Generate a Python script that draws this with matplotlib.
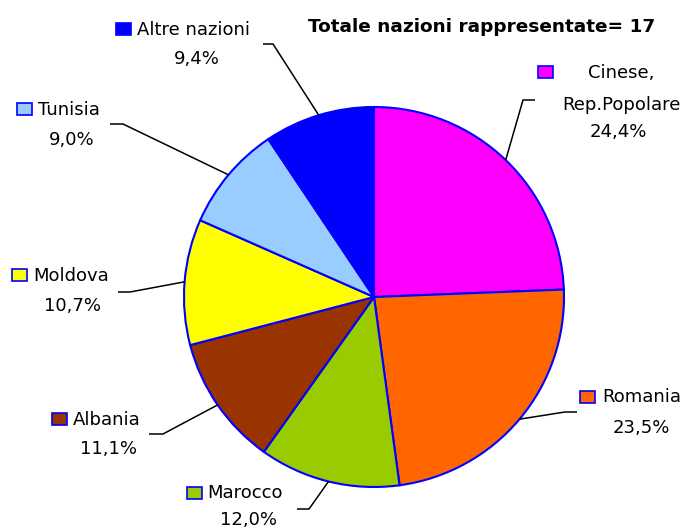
import matplotlib
matplotlib.use("Agg")
import matplotlib.pyplot as plt
from matplotlib.patches import Rectangle
import numpy as np

# dati
nazioni = ["Cinese,\nRep.Popolare", "Romania", "Marocco", "Albania",
           "Moldova", "Tunisia", "Altre nazioni"]
quote = [24.4, 23.5, 12.0, 11.1, 10.7, 9.0, 9.4]
colori = ["#FF00FF", "#FF6600", "#99CC00", "#993300",
          "#FFFF00", "#99CCFF", "#0000FF"]
titolo = "Totale nazioni rappresentate= 17"

W, H = 689, 530
CX, CY, R = 374, 297, 190   # centro e raggio in pixel


def px(x, y):
    # pixel (origine in alto a sinistra) -> coordinate dati
    return x, H - y


# posizioni delle etichette (pixel): quadratino, nome, percentuale, gomito
quadr_pos = [(538, 78), (580, 403), (187, 499), (52, 425),
             (12, 281), (17, 115), (116, 35)]
nome_pos = [(621, 78), (602, 402), (207, 498), (73, 425),
            (33, 281), (38, 115), (137, 35)]
perc_pos = [(618, 137), (641, 433), (249, 525), (109, 454),
            (73, 311), (72, 145), (197, 64)]
gomiti = [[(535, 100), (523, 100)], [(577, 412), (565, 412)],
          [(297, 509), (309, 509)], [(149, 434), (163, 434)],
          [(118, 292), (130, 292)], [(110, 124), (123, 124)],
          [(263, 44), (273, 44)]]

fig = plt.figure(figsize=(W / 100, H / 100), dpi=100)
ax = fig.add_axes([0, 0, 1, 1])

wedges, _ = ax.pie(quote, colors=colori, startangle=90, counterclock=False,
                   center=px(CX, CY), radius=R,
                   wedgeprops=dict(edgecolor="#0000FF", linewidth=1.5))
ax.set_xlim(0, W)
ax.set_ylim(0, H)
ax.set_aspect("equal")
ax.axis("off")

font = dict(family="DejaVu Sans", size=13, color="black")

for i, w in enumerate(wedges):
    # linea di richiamo verso il centro dello spicchio
    ang = np.deg2rad((w.theta1 + w.theta2) / 2)
    ax_x = CX + R * np.cos(ang)
    ax_y = CY - R * np.sin(ang)
    pts = [px(*p) for p in gomiti[i]] + [px(ax_x, ax_y)]
    xs, ys = zip(*pts)
    ax.plot(xs, ys, color="black", linewidth=1.1, solid_capstyle="butt")

    qx, qy = px(*quadr_pos[i])
    ax.add_patch(Rectangle((qx, qy), 15, 12, facecolor=colori[i],
                           edgecolor="#0000FF", linewidth=1.2))

    nome = nazioni[i]
    if "\n" in nome:
        righe = nome.split("\n")
        nx, ny = px(*nome_pos[i])
        ax.text(nx, ny, righe[0], ha="center", va="baseline", **font)
        ax.text(nx, ny - 32, righe[1], ha="center", va="baseline", **font)
    else:
        nx, ny = px(*nome_pos[i])
        ax.text(nx, ny, nome, ha="left", va="baseline", **font)

    tx, ty = px(*perc_pos[i])
    ax.text(tx, ty, f"{quote[i]:.1f}%".replace(".", ","), ha="center",
            va="baseline", **font)

ax.text(*px(482, 32), titolo, ha="center", va="baseline",
        family="DejaVu Sans", size=13.3, weight="bold")

fig.savefig("out.png", dpi=100)
